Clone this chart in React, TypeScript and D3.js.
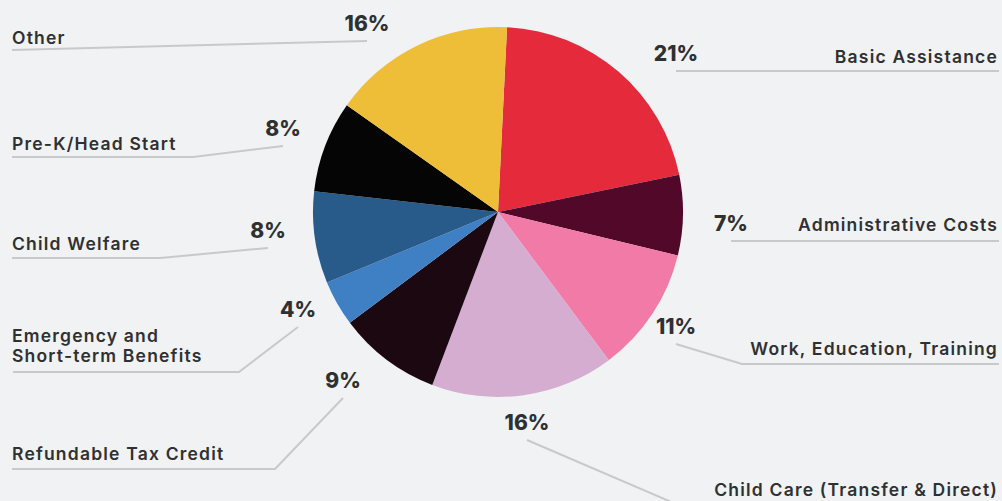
import { useEffect, useRef } from 'react'
import * as d3 from 'd3'

const categories = [
  'Basic Assistance',
  'Administrative Costs',
  'Work, Education, Training',
  'Child Care (Transfer & Direct)',
  'Refundable Tax Credit',
  'Emergency and|Short-term Benefits',
  'Child Welfare',
  'Pre-K/Head Start',
  'Other',
]
const shares = [21, 7, 11, 16, 9, 4, 8, 8, 16]
const sliceColors = [
  '#e52b3b',
  '#520829',
  '#f27aa6',
  '#d4add0',
  '#1b0810',
  '#3f7fc4',
  '#285a8a',
  '#050505',
  '#efbe38',
]

// hand placed leader lines: [start, bend, end] and where the name sits
const labelLayout = [
  { pts: [[676, 71], [999, 71]], side: 'right', y: 63 },
  { pts: [[731, 241], [999, 241]], side: 'right', y: 231 },
  { pts: [[676, 344], [742, 364], [999, 364]], side: 'right', y: 355 },
  { pts: [[527, 440], [690, 510], [999, 510]], side: 'right', y: 496 },
  { pts: [[343, 398], [275, 469], [12, 469]], side: 'left', y: 460 },
  { pts: [[298, 327], [239, 372], [13, 372]], side: 'left', y: 362 },
  { pts: [[268, 248], [160, 258], [12, 258]], side: 'left', y: 250 },
  { pts: [[283, 146], [193, 157], [12, 157]], side: 'left', y: 150 },
  { pts: [[367, 41], [12, 50]], side: 'left', y: 44 },
]

const W = 1002
const H = 501

function App() {
  const ref = useRef<SVGSVGElement | null>(null)

  useEffect(() => {
    const svg = d3.select(ref.current)
    svg.selectAll('*').remove()

    svg.append('rect').attr('width', W).attr('height', H).attr('fill', '#f1f2f4')

    const cx = 498
    const cy = 212
    const r = 185
    const offset = 0.049

    const pie = d3
      .pie<number>()
      .sort(null)
      .value((d) => d)
      .startAngle(offset)
      .endAngle(offset + Math.PI * 2)
    const arc = d3.arc<d3.PieArcDatum<number>>().innerRadius(0).outerRadius(r)

    const g = svg.append('g').attr('transform', `translate(${cx},${cy})`)
    g.selectAll('path')
      .data(pie(shares))
      .enter()
      .append('path')
      .attr('d', arc)
      .attr('fill', (_, i) => sliceColors[i])

    const line = d3.line()
    const labels = svg.append('g')

    labelLayout.forEach((l, i) => {
      labels
        .append('path')
        .attr('d', line(l.pts as [number, number][]))
        .attr('fill', 'none')
        .attr('stroke', '#c9c9cb')
        .attr('stroke-width', 2)

      const [sx, sy] = l.pts[0]
      labels
        .append('text')
        .attr('x', sx)
        .attr('y', sy - 10)
        .attr('text-anchor', 'middle')
        .attr('font-family', 'Inter, sans-serif')
        .attr('font-weight', 800)
        .attr('font-size', 21)
        .attr('fill', '#2f3032')
        .text(`${shares[i]}%`)

      const rows = categories[i].split('|')
      const x = l.side === 'right' ? 998 : 12
      const t = labels
        .append('text')
        .attr('x', x)
        .attr('text-anchor', l.side === 'right' ? 'end' : 'start')
        .attr('font-family', 'Inter, sans-serif')
        .attr('font-weight', 600)
        .attr('font-size', 17.5)
        .attr('letter-spacing', 1.2)
        .attr('fill', '#2f3032')
      rows.forEach((row, k) => {
        t.append('tspan')
          .attr('x', x)
          .attr('y', l.y - (rows.length - 1 - k) * 20)
          .text(row)
      })
    })
  }, [])

  return (
    <div style={{ position: 'absolute', left: 0, top: 0 }}>
      <svg ref={ref} width={W} height={H} style={{ display: 'block' }} />
    </div>
  )
}

export default App
